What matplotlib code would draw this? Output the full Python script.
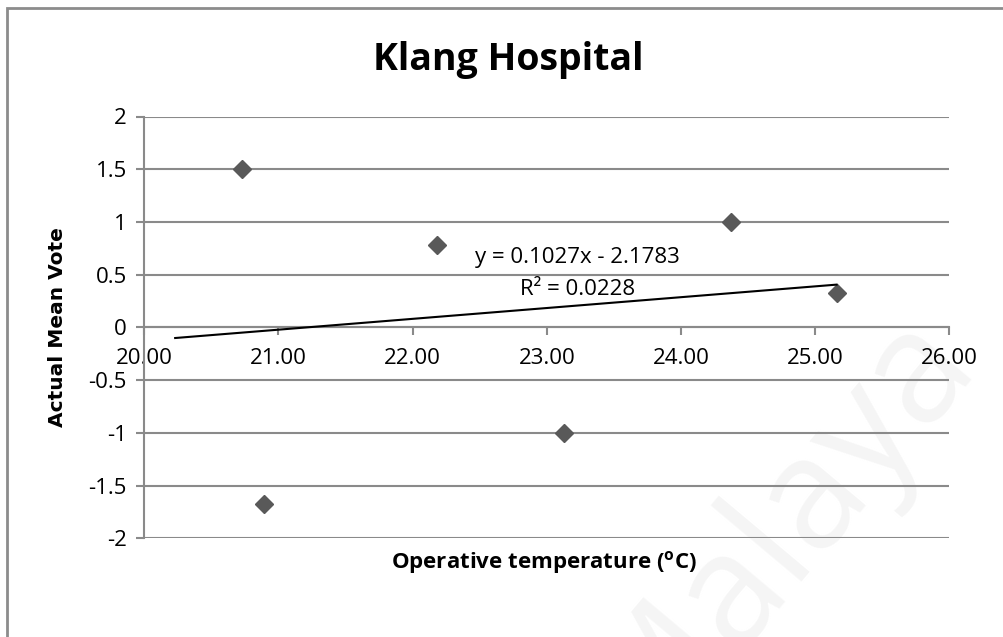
import matplotlib
matplotlib.use("Agg")
import matplotlib.pyplot as plt
from matplotlib.lines import Line2D
import numpy as np

# Survey results
temperature = [20.73, 20.89, 22.18, 23.13, 24.37, 25.16]
mean_vote = [1.5, -1.67, 0.78, -1.0, 1.0, 0.33]

# Linear trendline reported by the regression
slope = 0.1027
intercept = -2.1783
r_squared = 0.0228
backward_forecast = 0.5

x_ticks = [20, 21, 22, 23, 24, 25, 26]
y_ticks = [-2, -1.5, -1, -0.5, 0, 0.5, 1, 1.5, 2]

title = "Klang Hospital"
x_label = r"Operative temperature ($^{\mathbf{o}}$C)"
y_label = "Actual Mean Vote"

plt.rcParams["font.family"] = ["Open Sans", "DejaVu Sans"]
plt.rcParams["mathtext.fontset"] = "custom"
plt.rcParams["mathtext.rm"] = "Open Sans"
plt.rcParams["mathtext.bf"] = "Open Sans:bold"

GRID = "#8a8a8a"
MARKER = "#595959"

fig = plt.figure(figsize=(10.04, 6.37), dpi=100)
fig.patch.set_facecolor("white")

# Chart-area frame (top and left edges)
fx = 7.5 / 1004
fy = 1 - 7.5 / 637
fig.add_artist(Line2D([fx, fx, 1.0], [0.0, fy, fy], transform=fig.transFigure,
                      color="#8c8c8c", lw=2.0, solid_joinstyle="miter"))

# Faint diagonal watermark, kept behind the plot
wm = fig.text(0.775, 0.17, "Malaya", fontsize=112, color="#f5f5f5", rotation=50,
              ha="center", va="center", fontweight="normal")
wm.set_zorder(-5)

ax = fig.add_axes([144.3 / 1004, 1 - 538.3 / 637,
                   (949.3 - 144.3) / 1004, (538.3 - 116.5) / 637])
ax.set_facecolor("none")
ax.set_zorder(1)

ax.set_xlim(x_ticks[0], x_ticks[-1])
ax.set_ylim(y_ticks[0], y_ticks[-1])

ax.set_yticks(y_ticks)
ax.set_yticklabels([("%g" % v) for v in y_ticks])
ax.set_xticks(x_ticks)
ax.set_xticklabels(["%.2f" % v for v in x_ticks])

ax.yaxis.grid(True, color=GRID, lw=1.5)
ax.set_axisbelow(True)

for side in ("top", "right"):
    ax.spines[side].set_visible(False)
ax.spines["left"].set_color(GRID)
ax.spines["left"].set_linewidth(1.5)
ax.spines["bottom"].set_position(("data", 0))
ax.spines["bottom"].set_color(GRID)
ax.spines["bottom"].set_linewidth(1.5)

ax.tick_params(axis="x", direction="out", length=5.5, width=1.5, color=GRID,
               labelsize=16, pad=9, labelcolor="black")
ax.tick_params(axis="y", direction="out", length=5.5, width=1.5, color=GRID,
               labelsize=16, pad=7, labelcolor="black")

# Data points
ax.plot(temperature, mean_vote, linestyle="none", marker="D", markersize=9.5,
        color=MARKER, zorder=3, clip_on=False)

# Trendline
x0 = min(temperature) - backward_forecast
x1 = max(temperature)
tx = np.array([x0, x1])
ax.plot(tx, slope * tx + intercept, color="black", lw=1.5, zorder=4)

ax.text(23.225, 0.66, "y = %.4fx - %.4f" % (slope, abs(intercept)),
        fontsize=16, ha="center", va="center")
ax.text(23.23, 0.36, "R² = %.4f" % r_squared, fontsize=16, ha="center", va="center")

fig.text(508.5 / 1004, 1 - 70 / 637, title, fontsize=27, fontweight="bold",
         ha="center", va="baseline")
fig.text(544 / 1004, 1 - 562 / 637, x_label, fontsize=16, fontweight="bold",
         ha="center", va="center")
fig.text(57.5 / 1004, 1 - 327.5 / 637, y_label, fontsize=14.5, fontweight="bold",
         family="DejaVu Sans", rotation=90, ha="center", va="center")

fig.savefig("out.png", dpi=100, facecolor="white")
